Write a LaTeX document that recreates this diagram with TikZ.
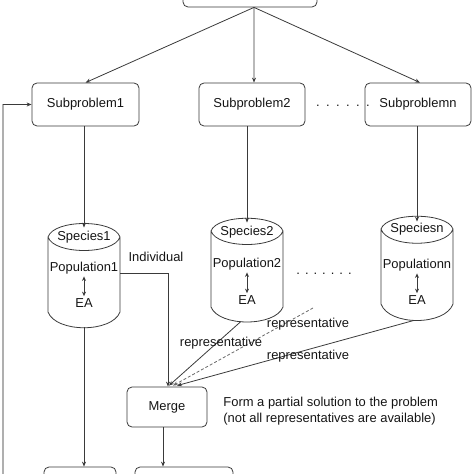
\documentclass[tikz,border=0pt]{standalone}
\usepackage{fontspec}
\setmainfont{Liberation Sans}
\usetikzlibrary{arrows.meta,calc}
\definecolor{linec}{HTML}{3A3A3A}
\definecolor{textc}{HTML}{151515}
\definecolor{fbcol}{HTML}{AFAFAF}
\definecolor{dashc}{HTML}{6A6A6A}
\begin{document}
\begin{tikzpicture}[x=1bp,y=-1bp,line width=0.8bp,
  box/.style={draw=linec, rounded corners=5bp, fill=white, inner sep=0pt,
              font=\fontsize{13}{15}\selectfont, text=textc},
  txt/.style={inner sep=1bp, font=\fontsize{13}{15}\selectfont, text=textc},
  cylnode/.style={inner sep=0pt, minimum width=72bp},
  cylline/.style={draw=linec, line join=round},
  arr/.style={draw=linec, -{Stealth[length=5bp,width=4bp]}},
  darr/.style={draw=linec, arrows={Stealth[length=4.5bp,width=4bp]-Stealth[length=4.5bp,width=4bp]}},
  dashline/.style={draw=dashc, dash pattern=on 3bp off 2bp, -{Stealth[length=5bp,width=4bp]}},
  fbline/.style={draw=fbcol, line width=1.6bp}
]
\useasboundingbox (0,0) rectangle (474,474);
\clip (0,0) rectangle (474,474);

% top box (cut off)
\node[box, minimum width=134bp, minimum height=40bp] (top) at (250,-13) {};

% subproblem boxes
\node[box, minimum width=107bp, minimum height=43bp] (sub1) at (85.5,104.5) {Subproblem1};
\node[box, minimum width=106bp, minimum height=43bp] (sub2) at (252,104.5) {Subproblem2};
\node[box, minimum width=106bp, minimum height=43bp] (subn) at (418,104.5) {Subproblemn};
\node[txt, anchor=base] (dots1) at (343,107) {.\hskip6.4bp.\hskip6.4bp.\hskip6.4bp.\hskip6.4bp.\hskip6.4bp.};

\draw[arr] ([xshift=4bp]top.south) -- (sub1.north);
\draw[arr] ([xshift=4bp]top.south) -- ([xshift=2bp]sub2.north);
\draw[arr] ([xshift=4bp]top.south) -- ([xshift=2bp]subn.north);

% cylinders (outlines)
\draw[cylline] (48,237) .. controls (54,219) and (114,219) .. (120,237)
               .. controls (114,255) and (54,255) .. (48,237)
               -- (48,312) .. controls (56,333) and (112,333) .. (120,312) -- (120,237);
\draw[cylline] (211,231) .. controls (217,214) and (277,214) .. (283,231)
               .. controls (277,249) and (217,249) .. (211,231)
               -- (211,307) .. controls (219,327) and (275,327) .. (283,307) -- (283,231);
\draw[cylline] (381,229) .. controls (387,212) and (447,212) .. (453,229)
               .. controls (447,248) and (387,248) .. (381,229)
               -- (381,304) .. controls (389,326) and (445,326) .. (453,304) -- (453,229);

\node[cylnode, minimum height=102bp] (cyl1) at (84,276) {};
\node[cylnode, minimum height=101bp] (cyl2) at (247,270.5) {};
\node[cylnode, minimum height=102bp] (cyln) at (417,269) {};

% cylinder texts
\node[txt] (sp1) at (84,237) {Species1};
\node[txt] (pop1) at (84,268) {Population1};
\node[txt] (ea1) at (84,303) {EA};
\node[txt] (sp2) at (247,232) {Species2};
\node[txt] (pop2) at (247,264) {Population2};
\node[txt] (ea2) at (247,300) {EA};
\node[txt] (spn) at (417,229) {Speciesn};
\node[txt] (popn) at (417,265) {Populationn};
\node[txt] (ean) at (417,300) {EA};
\draw[darr] ([yshift=-1bp]pop1.south) -- ([yshift=1bp]ea1.north);
\draw[darr] ([yshift=-1bp]pop2.south) -- ([yshift=1bp]ea2.north);
\draw[darr] ([yshift=-1bp]popn.south) -- ([yshift=1bp]ean.north);
\node[txt, anchor=base] (dots2) at (324,274) {.\hskip5bp.\hskip5bp.\hskip5bp.\hskip5bp.\hskip5bp.\hskip5bp.};

% subproblem -> species
\draw[arr] (sub1.south -| cyl1.north) -- ([yshift=-3bp]cyl1.north);
\draw[arr] (sub2.south -| cyl2.north) -- ([yshift=-3bp]cyl2.north);
\draw[arr] (subn.south -| cyln.north) -- ([yshift=-4bp]cyln.north);

% feedback line
\coordinate (fbbot) at (3,480);
\coordinate (fbtop) at (3,104.5);
\draw[fbline] (fbbot) -- (fbtop);
\draw[arr] (fbtop) -- (sub1.west);

% merge and bottom boxes
\node[box, minimum width=80bp, minimum height=40bp] (merge) at (167,407) {Merge};
\node[box, minimum width=72bp, minimum height=40bp] (bl) at (80,487) {};
\node[box, minimum width=98bp, minimum height=40bp] (br) at (184,487) {};

\node[txt, anchor=west, align=left, font=\fontsize{13}{16}\selectfont] (cap) at (222,411)
  {Form a partial solution to the problem\\(not all representatives are available)};

% individual
\draw[arr] ([yshift=3bp]cyl1.east) -| ([xshift=1bp]merge.north);
\node[txt] (indlab) at (156,257) {Individual};

% representatives
\coordinate (dstart) at (313,308);
\draw[arr] ([xshift=-6bp]cyl2.south) -- ([xshift=2bp,yshift=1bp]merge.north);
\draw[dashline] (dstart) -- ([xshift=6bp,yshift=1bp]merge.north);
\draw[arr] ([xshift=-3bp]cyln.south) -- ([xshift=10bp,yshift=1bp]merge.north);
\node[txt] (rep1) at (221,343) {representative};
\node[txt] (rep2) at (308,324) {representative};
\node[txt] (rep3) at (308,356) {representative};

% down arrows
\draw[arr] (cyl1.south) -- (cyl1.south |- bl.north);
\draw[arr] ([xshift=-4bp]merge.south) -- ([xshift=-4bp]merge.south |- br.north);
\end{tikzpicture}
\end{document}
